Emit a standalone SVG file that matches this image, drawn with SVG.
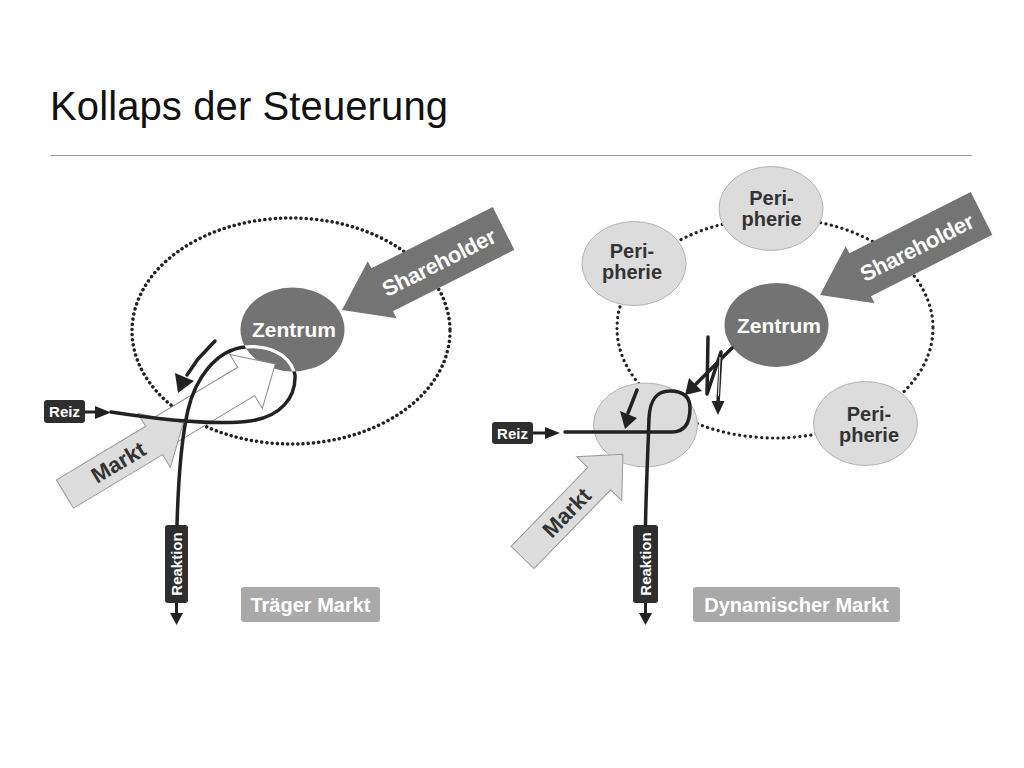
<svg xmlns="http://www.w3.org/2000/svg" width="1024" height="768" viewBox="0 0 1024 768">
<style>
text{font-family:"Liberation Sans",Arial,sans-serif;}
.b{font-weight:bold;}
.dot{fill:none;stroke:#222;stroke-width:3.5;stroke-dasharray:0.1 5.1;stroke-linecap:round;}
.dot2{fill:none;stroke:#222;stroke-width:3.2;stroke-dasharray:0.1 5.4;stroke-linecap:round;}
.zen{fill:#737373;}
.per{fill:#dcdcdc;stroke:#b4b4b4;stroke-width:1;}
.sh{fill:#747474;}
.mk{fill:#dddddd;stroke:#999;stroke-width:1;}
.ln{fill:none;stroke:#222;stroke-width:3.5;stroke-linecap:round;stroke-linejoin:round;}
.thin{fill:none;stroke:#222;stroke-width:3;}
.hd{fill:#222;}
.box{fill:#2e2e2e;}
.lab{fill:#a9a9a9;}
.wt{fill:#fff;}
.dk{fill:#333;}
</style>
<defs>
<path id="shArrow" d="M0,0 L45,-32 L45,-24 L181,-24 L181,24 L45,24 L45,32 Z"/>
<clipPath id="zclip"><ellipse cx="292.5" cy="329.5" rx="52" ry="42"/></clipPath>
</defs>
<rect width="1024" height="768" fill="#fff"/>
<text x="50" y="120" font-size="40" fill="#111" textLength="398">Kollaps der Steuerung</text>
<line x1="51" y1="155.5" x2="972" y2="155.5" stroke="#9a9a9a" stroke-width="1"/>

<!-- LEFT DIAGRAM -->
<g id="left-boundary"><ellipse class="dot" cx="291" cy="331" rx="159" ry="113"/></g>
<g id="left-zentrum"><ellipse class="zen" cx="292.5" cy="329.5" rx="52" ry="42"/></g>
<g id="left-markt-ghost"><path d="M0,-16.5 L104,-16.5 L104,-31.5 L138,0 L104,31.5 L104,16.5 L0,16.5 Z" transform="translate(157,435) rotate(-31)" fill="#fff" stroke="#8a8a8a" stroke-width="1"/></g>
<g id="left-zentrum-label"><text class="b wt" x="294" y="337" font-size="21" text-anchor="middle">Zentrum</text></g>
<g id="left-markt" transform="translate(65,494) rotate(-31)">
<path class="mk" d="M0,-16.5 L104,-16.5 L104,-31.5 L138,0 L104,31.5 L104,16.5 L0,16.5 Z"/>
<text class="b dk" x="62" y="8" font-size="22" text-anchor="middle">Markt</text>
</g>
<g id="left-shareholder" transform="translate(342,310) rotate(-26.8)">
<use href="#shArrow" class="sh"/>
<text class="b wt" x="108" y="9" font-size="22" text-anchor="middle" textLength="124">Shareholder</text>
</g>
<g id="left-reiz">
<rect class="box" x="44" y="400" width="41" height="23" rx="3"/>
<text class="b wt" x="64.5" y="417" font-size="15" text-anchor="middle">Reiz</text>
</g>
<g id="left-reaktion">
<rect class="box" x="165" y="525" width="23" height="78" rx="3"/>
<text class="b wt" transform="translate(182,564) rotate(-90)" font-size="15" text-anchor="middle">Reaktion</text>
</g>
<g id="left-label">
<rect class="lab" x="241" y="587" width="139" height="35" rx="3"/>
<text class="b wt" x="310.5" y="612" font-size="20" text-anchor="middle">Träger Markt</text>
</g>
<g id="left-connectors">
<line class="thin" x1="85" y1="412" x2="97" y2="412"/>
<polygon class="hd" points="95,406 111,412.5 95,419"/>
<path class="ln" d="M111,412 C150,418 210,426 250,421 C280,417 296,398 295,375 C290,352 265,345 245,347 C215,350 195,380 188,410 C181,440 178,490 177,525"/>
<path d="M111,412 C150,418 210,426 250,421 C280,417 296,398 295,375 C290,352 265,345 245,347 C215,350 195,380 188,410 C181,440 178,490 177,525" fill="none" stroke="#fff" stroke-width="3.5" clip-path="url(#zclip)"/>
<path class="ln" d="M215,341 L198,359 L187,375"/>
<polygon class="hd" points="175,373 194,381 178,393"/>
<line class="thin" x1="176.5" y1="603" x2="176.5" y2="614"/>
<polygon class="hd" points="170,613 183,613 176.5,625"/>
</g>

<!-- RIGHT DIAGRAM -->
<g id="right-boundary"><ellipse class="dot2" cx="775" cy="328" rx="158" ry="110"/></g>
<g id="right-peripherie-top">
<ellipse class="per" cx="771" cy="208.5" rx="52" ry="42"/>
<text class="b dk" font-size="20" text-anchor="middle"><tspan x="771.5" y="205">Peri-</tspan><tspan x="771.5" y="226">pherie</tspan></text>
</g>
<g id="right-peripherie-left">
<ellipse class="per" cx="634" cy="263.5" rx="52" ry="42"/>
<text class="b dk" font-size="20" text-anchor="middle"><tspan x="632" y="258">Peri-</tspan><tspan x="632" y="279">pherie</tspan></text>
</g>
<g id="right-peripherie-bottom">
<ellipse class="per" cx="865.5" cy="423.5" rx="52" ry="42"/>
<text class="b dk" font-size="20" text-anchor="middle"><tspan x="869" y="421">Peri-</tspan><tspan x="869" y="442">pherie</tspan></text>
</g>
<g id="right-peripherie-markt"><ellipse class="per" cx="645.5" cy="425" rx="52" ry="42"/></g>
<g id="right-zentrum">
<ellipse class="zen" cx="776.5" cy="325" rx="52" ry="42"/>
<text class="b wt" x="779" y="333" font-size="21" text-anchor="middle">Zentrum</text>
</g>
<g id="right-shareholder" transform="translate(820,295) rotate(-26.8)">
<use href="#shArrow" class="sh"/>
<text class="b wt" x="108" y="9" font-size="22" text-anchor="middle" textLength="124">Shareholder</text>
</g>
<g id="right-markt" transform="translate(522.5,557.5) rotate(-45.8)">
<path class="mk" d="M0,-16 L110,-16 L110,-31.5 L144,0 L110,31.5 L110,16 L0,16 Z"/>
<text class="b dk" x="63" y="8" font-size="22" text-anchor="middle">Markt</text>
</g>
<g id="right-reiz">
<rect class="box" x="492" y="422" width="41" height="22" rx="3"/>
<text class="b wt" x="512.5" y="438.5" font-size="15" text-anchor="middle">Reiz</text>
</g>
<g id="right-reaktion">
<rect class="box" x="633" y="525" width="25" height="78" rx="3"/>
<text class="b wt" transform="translate(651,564) rotate(-90)" font-size="15" text-anchor="middle">Reaktion</text>
</g>
<g id="right-label">
<rect class="lab" x="693" y="587" width="207" height="35" rx="3"/>
<text class="b wt" x="796.5" y="612" font-size="20" text-anchor="middle">Dynamischer Markt</text>
</g>
<g id="right-connectors">
<line class="thin" x1="533" y1="433" x2="547" y2="433"/>
<polygon class="hd" points="545,427 560,433 545,439"/>
<path class="ln" d="M565,432 L672,432 C684,432 690,424 690,408 C690,396 682,391 670,391 C656,391 650,400 649,418 C648,450 646,490 645.5,525"/>
<path class="ln" d="M637,390 L628,413"/>
<polygon class="hd" points="620,411 637,418 625,429"/>
<path class="ln" d="M732,348 L696,384"/>
<polygon class="hd" points="689,378 702,391 685,395"/>
<path class="ln" d="M708,337 L707,394 L721,352 L718,403"/>
<line x1="720" y1="357" x2="718.5" y2="396" stroke="#fff" stroke-width="1"/>
<polygon class="hd" points="711.5,401 724.5,401 718,415"/>
<line class="thin" x1="645.5" y1="603" x2="645.5" y2="614"/>
<polygon class="hd" points="639,613 652,613 645.5,625"/>
</g>
</svg>
